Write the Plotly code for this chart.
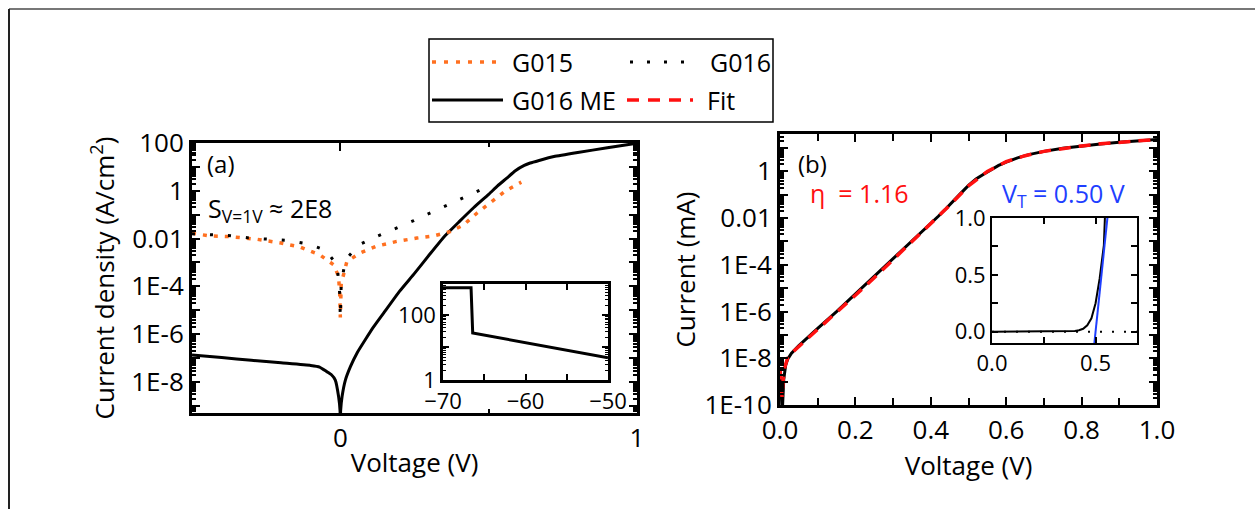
import numpy as np
import plotly.graph_objects as go

W, H = 1255, 509
FONT = "Open Sans"


def fx(p):
    return p / W


def fy(p):
    return 1 - p / H


# ---------------- (a) current density vs voltage ----------------
v_me_a = [-0.5, -0.4, -0.3, -0.2, -0.1, -0.07, -0.046, -0.03, -0.017, -0.006, -0.001, 0.0,
          0.001, 0.006, 0.017, 0.034, 0.056, 0.084, 0.112, 0.15, 0.2, 0.25, 0.3, 0.35, 0.4,
          0.45, 0.5, 0.53, 0.56, 0.59, 0.62, 0.64, 0.67, 0.72, 0.8, 0.9, 1.0]
j_me_a = [1.35e-7, 1.05e-7, 8.1e-8, 6.3e-8, 4.9e-8, 4.2e-8, 2.7e-8, 2.0e-8, 1.2e-8, 2.5e-9,
          6.3e-10, 3e-11, 6.3e-10, 2.5e-9, 1.2e-8, 4.4e-8, 1.6e-7, 5.8e-7, 2.0e-6, 8.9e-6,
          6.3e-5, 3.5e-4, 2.1e-3, 1.2e-2, 5.0e-2, 0.2, 0.71, 1.6, 3.3, 6.9, 11.5, 14.5,
          18.6, 27, 40, 63, 98]

v_g015 = [-0.5, -0.438, -0.37, -0.28, -0.2, -0.135, -0.067, -0.022, -0.006, -0.002, 0.0, 0.003,
          0.022, 0.067, 0.12, 0.19, 0.258, 0.314, 0.37, 0.415, 0.46, 0.51, 0.556, 0.61]
j_g015 = [0.0166, 0.0129, 0.012, 0.0093, 0.0065, 0.0044, 0.002, 7.9e-4, 2.6e-4, 5e-5, 5e-6,
          1.26e-4, 1.1e-3, 2.5e-3, 4.7e-3, 7.6e-3, 0.0105, 0.0129, 0.0195, 0.037, 0.115,
          0.355, 0.98, 2.3]

v_g016 = [-0.5, -0.438, -0.37, -0.31, -0.24, -0.175, -0.108, -0.05, -0.011, -0.002, 0.0, 0.003,
          0.017, 0.062, 0.127, 0.189, 0.247, 0.306, 0.367, 0.426, 0.49]
j_g016 = [0.0158, 0.0141, 0.0132, 0.0107, 0.0093, 0.0083, 0.0059, 0.0033, 7.9e-4, 5e-5, 5e-6,
          1.26e-4, 1.26e-3, 5.4e-3, 0.0129, 0.027, 0.056, 0.123, 0.28, 0.63, 1.38]

# inset of (a)
v_inset_a = [-70, -66.6, -66.4, -50]
y_inset_a = [680, 680, 28, 4.8]

# ---------------- (b) current vs voltage with fit ----------------
v_me_b = [0.0, 0.002, 0.006, 0.01, 0.015, 0.02, 0.03, 0.05, 0.075, 0.1, 0.15, 0.2, 0.25, 0.3,
          0.35, 0.4, 0.42, 0.44, 0.46, 0.48, 0.5, 0.52, 0.54, 0.56, 0.58, 0.6, 0.63, 0.66,
          0.7, 0.75, 0.8, 0.85, 0.9, 0.95, 1.0]
i_me_b = [2.5e-9, 6.3e-10, 5e-11, 1.26e-9, 5e-9, 8.9e-9, 1.6e-8, 3.5e-8, 7.9e-8, 1.9e-7,
          1.0e-6, 5.6e-6, 3.2e-5, 1.8e-4, 1.05e-3, 6.0e-3, 0.012, 0.025, 0.056, 0.117, 0.25,
          0.47, 0.76, 1.2, 1.8, 2.5, 3.8, 5.2, 7.2, 9.8, 12.3, 14.8, 17.8, 20.4, 22.9]

v_fit = [0.0, 0.003, 0.0055, 0.008, 0.0125, 0.02, 0.03, 0.05, 0.1, 0.15, 0.2, 0.25, 0.3, 0.35,
         0.4, 0.45, 0.5, 0.55, 0.6, 0.65, 0.7, 0.75, 0.8, 0.85, 0.9, 0.95, 1.0]
i_fit = [4e-9, 1e-9, 2e-10, 1e-9, 4e-9, 1e-8, 1.6e-8, 3.2e-8, 1.66e-7, 8.9e-7, 5e-6, 2.8e-5,
         1.66e-4, 9.5e-4, 5.5e-3, 0.035, 0.24, 1.0, 2.6, 4.7, 7.2, 9.8, 12.3, 15.1, 17.8,
         20.4, 23.4]

eta = 1.16
v_t = 0.50
vt_slope = 17.5          # mA/V, linear extrapolation line
v_tangent = [0.494, 0.56]

# tick labels
ya_tickvals = [10.0 ** k for k in range(-9, 3)]
ya_ticktext = ["", "1E-8", "", "1E-6", "", "1E-4", "", "0.01", "", "1", "", "100"]
yb_tickvals = [10.0 ** k for k in range(-10, 2)]
yb_ticktext = ["1E-10", "", "1E-8", "", "1E-6", "", "1E-4", "", "0.01", "", "1", ""]


def log_minor(lo, hi):
    vals = []
    for k in range(lo, hi + 1):
        for m in range(2, 10):
            vals.append(m * 10.0 ** k)
    return vals


ORANGE = "#ff7020"
RED = "#ff1010"
BLUE = "#1f3fff"

fig = go.Figure()

# panel (a)
fig.add_trace(go.Scatter(x=v_me_a, y=j_me_a, mode="lines", name="G016 ME",
                         line=dict(color="black", width=3, shape="spline", smoothing=0.4),
                         xaxis="x", yaxis="y"))
fig.add_trace(go.Scatter(x=v_g015, y=j_g015, mode="lines", name="G015",
                         line=dict(color=ORANGE, width=3.5, dash="4px,7px"), xaxis="x", yaxis="y"))
fig.add_trace(go.Scatter(x=v_g016, y=j_g016, mode="lines", name="G016",
                         line=dict(color="black", width=3, dash="3px,15px"), xaxis="x", yaxis="y"))
fig.add_trace(go.Scatter(x=v_inset_a, y=y_inset_a, mode="lines",
                         line=dict(color="black", width=3), xaxis="x2", yaxis="y2"))

# panel (b)
fig.add_trace(go.Scatter(x=v_me_b, y=i_me_b, mode="lines", name="G016 ME",
                         line=dict(color="black", width=3), xaxis="x3", yaxis="y3"))
fig.add_trace(go.Scatter(x=v_fit, y=i_fit, mode="lines", name="Fit",
                         line=dict(color=RED, width=3.5, dash="12px,8px"), xaxis="x3", yaxis="y3"))
fig.add_trace(go.Scatter(x=v_me_b, y=i_me_b, mode="lines",
                         line=dict(color="black", width=2), xaxis="x4", yaxis="y4"))
vt_line_y = [vt_slope * (v - v_t) for v in v_tangent]
fig.add_trace(go.Scatter(x=v_tangent, y=vt_line_y, mode="lines",
                         line=dict(color=BLUE, width=2), xaxis="x4", yaxis="y4"))


def axis(lw, size, **kw):
    d = dict(showline=True, linecolor="black", linewidth=lw, mirror="allticks",
             ticks="inside", tickcolor="black", tickwidth=2, ticklen=8,
             showgrid=False, zeroline=False, automargin=False,
             tickfont=dict(family=FONT, size=size, color="black"))
    d.update(kw)
    return d


TS = 26
title_font = dict(family=FONT, size=26, color="black")
minor_main = dict(ticks="inside", ticklen=4, tickwidth=1.5, tickcolor="black")

fig.update_layout(
    width=W, height=H,
    margin=dict(l=0, r=0, t=0, b=0, pad=0, autoexpand=False),
    paper_bgcolor="white", plot_bgcolor="rgba(0,0,0,0)",
    showlegend=False,
    font=dict(family=FONT, color="black"),
    xaxis=axis(3, TS, domain=[fx(192), fx(637)], anchor="y", range=[-0.5, 1],
               tickmode="array", tickvals=[0, 1], ticktext=["0", "1"],
               minor=dict(tickvals=[-0.5, 0.5], **minor_main),
               title=dict(text="Voltage (V)", font=title_font, standoff=0)),
    yaxis=axis(3, TS, domain=[fy(413), fy(143)], anchor="x", type="log", range=[-9.3, 2],
               tickmode="array", tickvals=ya_tickvals, ticktext=ya_ticktext,
               minor=dict(tickvals=log_minor(-10, 1), **minor_main),
               title=dict(text="Current density (A/cm<sup>2</sup>)", font=title_font, standoff=10)),
    xaxis2=axis(2.5, 22, domain=[fx(443), fx(608)], anchor="y2", range=[-70, -50],
                tickmode="array", tickvals=[-70, -60, -50], ticklen=6,
                minor=dict(tickvals=[-65, -55], ticks="inside", ticklen=6, tickwidth=1.5,
                           tickcolor="black")),
    yaxis2=axis(2.5, 22, domain=[fy(380), fy(284)], anchor="x2", type="log", range=[0, 2.95],
                tickmode="array", tickvals=[1, 10, 100], ticktext=["1", "", "100"], ticklen=6,
                minor=dict(tickvals=log_minor(0, 2), ticks="inside", ticklen=3, tickwidth=1,
                           tickcolor="black")),
    xaxis3=axis(3, TS, domain=[fx(780), fx(1157)], anchor="y3", range=[0, 1],
                tickmode="array", tickvals=[0, 0.2, 0.4, 0.6, 0.8, 1.0],
                ticktext=["0.0", "0.2", "0.4", "0.6", "0.8", "1.0"],
                minor=dict(tickvals=[0.1, 0.3, 0.5, 0.7, 0.9], ticks="inside", ticklen=7,
                           tickwidth=2, tickcolor="black"),
                title=dict(text="Voltage (V)", font=title_font, standoff=0)),
    yaxis3=axis(3, TS, domain=[fy(405), fy(134)], anchor="x3", type="log", range=[-10, 1.6],
                tickmode="array", tickvals=yb_tickvals, ticktext=yb_ticktext,
                minor=dict(tickvals=log_minor(-11, 1), **minor_main),
                title=dict(text="Current (mA)", font=title_font, standoff=2)),
    xaxis4=axis(2, 22, domain=[fx(992), fx(1137)], anchor="y4", range=[0, 0.7],
                tickmode="array", tickvals=[0, 0.5], ticktext=["0.0", "0.5"], ticklen=6,
                minor=dict(tickvals=[0.25], ticks="inside", ticklen=6, tickwidth=2,
                           tickcolor="black")),
    yaxis4=axis(2, 22, domain=[fy(343), fy(218)], anchor="x4", range=[-0.1, 1.0],
                tickmode="array", tickvals=[0, 0.5, 1.0], ticktext=["0.0", "0.5", "1.0"],
                ticklen=6,
                minor=dict(tickvals=[0.25, 0.75], ticks="inside", ticklen=6, tickwidth=2,
                           tickcolor="black")),
)

shapes = []
# outer frame
shapes.append(dict(type="line", xref="paper", yref="paper", x0=fx(9), x1=1.02, y0=fy(9), y1=fy(9),
                   line=dict(color="#777777", width=2)))
shapes.append(dict(type="line", xref="paper", yref="paper", x0=fx(9), x1=fx(9), y0=fy(9), y1=-0.05,
                   line=dict(color="#222222", width=2)))
# zero reference in the linear inset
shapes.append(dict(type="line", xref="x4 domain", yref="y4", x0=0, x1=1, y0=0, y1=0,
                   line=dict(color="black", width=2, dash="2px,10px"), layer="below"))

# legend box and samples
shapes.append(dict(type="rect", xref="paper", yref="paper", x0=fx(429), x1=fx(773), y0=fy(122),
                   y1=fy(39), line=dict(color="black", width=1.5), fillcolor="white"))
legend_rows = [
    (432, 500, 62, dict(color=ORANGE, width=3.5, dash="4px,8px"), 510, "G015"),
    (630, 697, 62, dict(color="black", width=3, dash="3px,14px"), 708, "G016"),
    (432, 503, 100, dict(color="black", width=3), 510, "G016 ME"),
    (627, 693, 100, dict(color=RED, width=3.5, dash="12px,9px"), 705, "Fit"),
]
annotations = []
for x0, x1, yy, ln, tx, label in legend_rows:
    shapes.append(dict(type="line", xref="paper", yref="paper", x0=fx(x0), x1=fx(x1),
                       y0=fy(yy), y1=fy(yy), line=ln))
    annotations.append(dict(xref="paper", yref="paper", x=fx(tx), y=fy(yy), text=label,
                            showarrow=False, xanchor="left", yanchor="middle",
                            font=dict(family=FONT, size=25, color="black")))

txt = dict(family=FONT, size=25, color="black")
annotations += [
    dict(x=fx(205), y=fy(163), text="(a)", font=dict(family=FONT, size=24, color="black")),
    dict(x=fx(206), y=fy(209), text="S<sub>V=1V</sub> \u2248 2E8", font=txt),
    dict(x=fx(796), y=fy(163), text="(b)", font=dict(family=FONT, size=24, color="black")),
    dict(x=fx(808), y=fy(193), text=f"\u03b7  = {eta:.2f}",
         font=dict(family=FONT, size=25, color=RED)),
    dict(x=fx(1000), y=fy(194), text=f"V<sub>T</sub> = {v_t:.2f} V",
         font=dict(family=FONT, size=25, color=BLUE)),
]
for a in annotations[-5:]:
    a.update(xref="paper", yref="paper", showarrow=False, xanchor="left", yanchor="middle")

fig.update_layout(shapes=shapes, annotations=annotations)
fig.write_html("out.html")
